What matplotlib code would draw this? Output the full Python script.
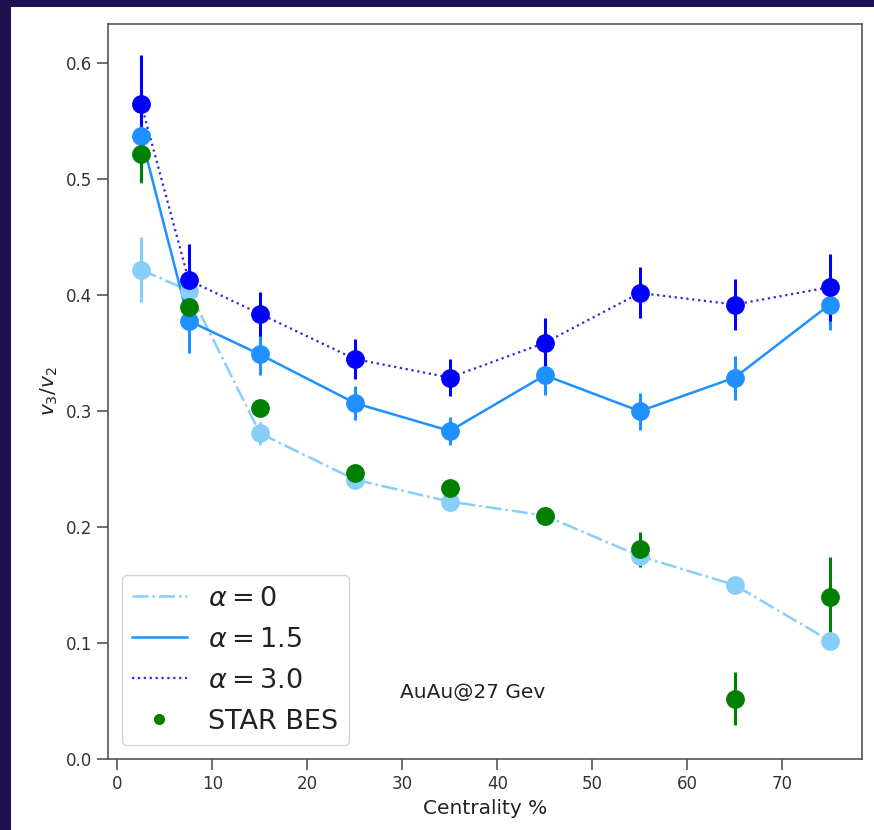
import matplotlib
matplotlib.use('Agg')
from matplotlib import pyplot as plt
from matplotlib.patches import Rectangle
from matplotlib.lines import Line2D

# centrality bins (%)
cent = [2.5, 7.5, 15, 25, 35, 45, 55, 65, 75]

# alpha = 0
a0 = [0.422, 0.404, 0.281, 0.241, 0.222, 0.210, 0.175, 0.150, 0.102]
a0_err = [0.028, 0.006, 0.010, 0.005, 0.005, 0.004, 0.005, 0.005, 0.004]

# alpha = 1.5
a15 = [0.537, 0.378, 0.349, 0.307, 0.283, 0.331, 0.300, 0.329, 0.392]
a15_err = [0.040, 0.028, 0.018, 0.015, 0.012, 0.017, 0.016, 0.019, 0.022]

# alpha = 3.0
a30 = [0.565, 0.413, 0.384, 0.345, 0.329, 0.359, 0.402, 0.392, 0.407]
a30_err = [0.042, 0.031, 0.019, 0.017, 0.016, 0.021, 0.022, 0.022, 0.029]

# STAR BES data
star = [0.522, 0.390, 0.303, 0.247, 0.234, 0.210, 0.181, 0.052, 0.140]
star_err = [0.024, 0.010, 0.006, 0.006, 0.006, 0.006, 0.015, 0.023, 0.034]

plt.rcParams['text.color'] = '#222222'
plt.rcParams['axes.labelcolor'] = '#222222'

fig = plt.figure(figsize=(8.74, 8.30), dpi=100)
fig.patch.set_facecolor('#1f1050')
fig.patches.append(Rectangle((11 / 874, 0), 1, 1 - 7 / 830, transform=fig.transFigure,
                             facecolor='white', edgecolor='none', zorder=-10))
ax = fig.add_axes([108 / 874, 1 - 759 / 830, 754 / 874, 735 / 830])

ms = 12.5
lw = 1.8
ax.plot(cent, a0, '-.', color='lightskyblue', lw=lw, label=r'$\alpha=0$')
ax.errorbar(cent, a0, yerr=a0_err, fmt='o', color='lightskyblue', ms=ms, elinewidth=2.2)
ax.plot(cent, a15, '-', color='dodgerblue', lw=lw, label=r'$\alpha=1.5$')
ax.errorbar(cent, a15, yerr=a15_err, fmt='o', color='dodgerblue', ms=ms, elinewidth=2.2)
ax.plot(cent, a30, ':', color='#2a2ae0', lw=1.6, label=r'$\alpha=3.0$')
ax.errorbar(cent, a30, yerr=a30_err, fmt='o', color='blue', ms=ms, elinewidth=2.2)
ax.errorbar(cent, star, yerr=star_err, fmt='o', color='green', ms=ms, elinewidth=2.2)

handles, labels = ax.get_legend_handles_labels()
handles.append(Line2D([], [], ls='none', marker='o', color='green', ms=7))
labels.append('STAR BES')
ax.legend(handles, labels, loc='lower left', fontsize=19.5, handlelength=2.0,
          labelspacing=0.55, borderaxespad=0.5)

ax.text(29.7, 0.057, 'AuAu@27 Gev', fontsize=14.5, va='center')

ax.set_xlim(-1.0, 78.4)
ax.set_ylim(0, 0.634)
ax.set_xlabel('Centrality %', fontsize=14.5)
ax.set_ylabel(r'$v_3/v_2$', fontsize=14.5)
ax.tick_params(labelsize=12, length=8, width=1.2, color='#555555', labelcolor='#333333')
for s in ax.spines.values():
    s.set_color('#555555')
    s.set_linewidth(1.2)

fig.savefig('out.png', dpi=100, facecolor=fig.get_facecolor())
